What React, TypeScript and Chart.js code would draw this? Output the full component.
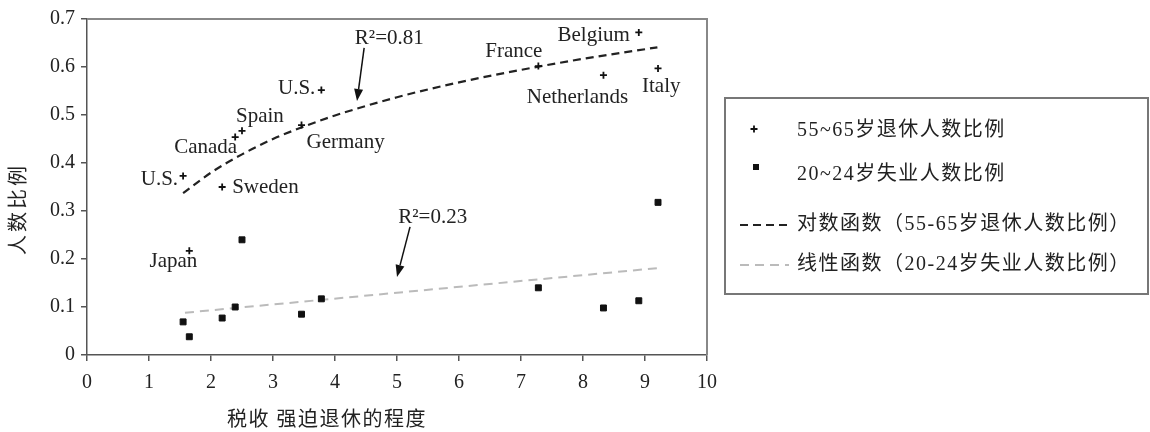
import React, { useEffect, useRef } from 'react';
import { Chart, registerables } from 'chart.js';

Chart.register(...registerables);

// ---------- data ----------
const countries = ['U.S.', 'Japan', 'Sweden', 'Canada', 'Spain', 'Germany', 'U.S.', 'France', 'Netherlands', 'Belgium', 'Italy'];
const taxIndex = [1.55, 1.65, 2.18, 2.39, 2.5, 3.46, 3.78, 7.28, 8.33, 8.9, 9.21];
const retiredShare = [0.373, 0.217, 0.35, 0.454, 0.467, 0.479, 0.552, 0.602, 0.583, 0.672, 0.597];
const unemployedShare = [0.069, 0.038, 0.077, 0.1, 0.24, 0.085, 0.117, 0.14, 0.098, 0.113, 0.318];

const logTrendX = [1.55, 2, 2.5, 3, 3.5, 4, 5, 6, 7, 8, 9.2];
const logTrendY = [0.337, 0.38, 0.418, 0.45, 0.476, 0.499, 0.537, 0.568, 0.594, 0.617, 0.641];
const linTrendX = [1.58, 9.2];
const linTrendY = [0.088, 0.181];

const xTickLabels = ['0', '1', '2', '3', '4', '5', '6', '7', '8', '9', '10'];
const yTickLabels = ['0', '0.1', '0.2', '0.3', '0.4', '0.5', '0.6', '0.7'];

const seriesNames = [
  '55~65岁退休人数比例',
  '20~24岁失业人数比例',
  '对数函数（55-65岁退休人数比例）',
  '线性函数（20-24岁失业人数比例）',
];
const xTitle = '税收 强迫退休的程度';
const yTitle = '人数比例';
const r2Labels = ['R²=0.81', 'R²=0.23'];
const r2TextAt = [{ x: 4.32, y: 0.648 }, { x: 5.02, y: 0.275 }];
const r2ArrowFrom = [{ x: 4.47, y: 0.64 }, { x: 5.21, y: 0.267 }];
const r2ArrowTo = [{ x: 4.355, y: 0.529 }, { x: 5.0, y: 0.1625 }];

// ---------- styles ----------
const SERIF = '"Liberation Serif", "Noto Sans CJK SC", serif';
const TEXT = '#222';
const LABEL_STYLE: { align: CanvasTextAlign; dx: number; dy: number }[] = [
  { align: 'right', dx: -5, dy: 9 },
  { align: 'right', dx: 8, dy: 16 },
  { align: 'left', dx: 10, dy: 6 },
  { align: 'right', dx: 2, dy: 16 },
  { align: 'left', dx: -6, dy: -9 },
  { align: 'left', dx: 5, dy: 23 },
  { align: 'right', dx: -6, dy: 4 },
  { align: 'right', dx: 4, dy: -9 },
  { align: 'center', dx: -26, dy: 28 },
  { align: 'right', dx: -9, dy: 9 },
  { align: 'left', dx: -16, dy: 24 },
];
const LEGEND_BOX = { x: 725, y: 98, w: 423, h: 196 };
const LEGEND_ROWS = [131, 175, 225, 265];
const LEGEND_MARK_X = 754;
const LEGEND_TEXT_X = 797;

function drawArrow(ctx: CanvasRenderingContext2D, x1: number, y1: number, x2: number, y2: number) {
  const ang = Math.atan2(y2 - y1, x2 - x1);
  const headLen = 12;
  const headW = 4.5;
  const bx = x2 - headLen * Math.cos(ang);
  const by = y2 - headLen * Math.sin(ang);
  ctx.save();
  ctx.strokeStyle = '#111';
  ctx.fillStyle = '#111';
  ctx.lineWidth = 1.5;
  ctx.setLineDash([]);
  ctx.beginPath();
  ctx.moveTo(x1, y1);
  ctx.lineTo(bx, by);
  ctx.stroke();
  ctx.beginPath();
  ctx.moveTo(x2, y2);
  ctx.lineTo(bx + headW * Math.sin(ang), by - headW * Math.cos(ang));
  ctx.lineTo(bx - headW * Math.sin(ang), by + headW * Math.cos(ang));
  ctx.closePath();
  ctx.fill();
  ctx.restore();
}

const decorPlugin = {
  id: 'decor',
  beforeDatasetsDraw(chart: any) {
    const { ctx, chartArea } = chart;
    ctx.save();
    ctx.strokeStyle = '#888';
    ctx.lineWidth = 2;
    ctx.beginPath();
    ctx.moveTo(chartArea.left, chartArea.top);
    ctx.lineTo(chartArea.right, chartArea.top);
    ctx.lineTo(chartArea.right, chartArea.bottom);
    ctx.stroke();
    ctx.restore();
  },
  afterDraw(chart: any) {
    const { ctx } = chart;
    const xs = chart.scales.x;
    const ys = chart.scales.y;
    ctx.save();
    ctx.fillStyle = TEXT;
    // country labels
    ctx.font = '21px ' + SERIF;
    ctx.textBaseline = 'alphabetic';
    const meta = chart.getDatasetMeta(0);
    countries.forEach((name, i) => {
      const el = meta.data[i];
      const st = LABEL_STYLE[i];
      ctx.textAlign = st.align;
      ctx.fillText(name, el.x + st.dx, el.y + st.dy);
    });
    // R² annotations
    r2Labels.forEach((t, i) => {
      ctx.textAlign = 'left';
      ctx.fillText(t, xs.getPixelForValue(r2TextAt[i].x), ys.getPixelForValue(r2TextAt[i].y));
      drawArrow(
        ctx,
        xs.getPixelForValue(r2ArrowFrom[i].x),
        ys.getPixelForValue(r2ArrowFrom[i].y),
        xs.getPixelForValue(r2ArrowTo[i].x),
        ys.getPixelForValue(r2ArrowTo[i].y)
      );
    });
    // axis titles
    ctx.font = '20px ' + SERIF;
    (ctx as any).letterSpacing = '1.5px';
    ctx.textAlign = 'center';
    ctx.textBaseline = 'middle';
    ctx.fillText(xTitle, 327, 421);
    ctx.save();
    (ctx as any).letterSpacing = '3px';
    ctx.translate(20, 209);
    ctx.rotate(-Math.PI / 2);
    ctx.fillText(yTitle, 0, 0);
    ctx.restore();

    // legend
    (ctx as any).letterSpacing = '1.5px';
    ctx.strokeStyle = '#777';
    ctx.lineWidth = 2;
    ctx.strokeRect(LEGEND_BOX.x, LEGEND_BOX.y, LEGEND_BOX.w, LEGEND_BOX.h);
    ctx.font = '20px ' + SERIF;
    ctx.textAlign = 'left';
    ctx.textBaseline = 'middle';
    chart.data.datasets.forEach((ds: any, i: number) => {
      const cy = LEGEND_ROWS[i];
      ctx.fillStyle = TEXT;
      ctx.fillText(ds.label, LEGEND_TEXT_X, cy);
      ctx.save();
      if (ds.showLine) {
        ctx.strokeStyle = ds.borderColor;
        ctx.lineWidth = ds.borderWidth;
        ctx.setLineDash(ds.borderDash);
        ctx.beginPath();
        ctx.moveTo(740, cy);
        ctx.lineTo(789, cy);
        ctx.stroke();
      } else if (ds.pointStyle === 'cross') {
        ctx.strokeStyle = ds.pointBorderColor;
        ctx.lineWidth = ds.pointBorderWidth;
        const r = ds.pointRadius;
        ctx.beginPath();
        ctx.moveTo(LEGEND_MARK_X - r, cy - 2);
        ctx.lineTo(LEGEND_MARK_X + r, cy - 2);
        ctx.moveTo(LEGEND_MARK_X, cy - 2 - r);
        ctx.lineTo(LEGEND_MARK_X, cy - 2 + r);
        ctx.stroke();
      } else {
        ctx.fillStyle = ds.pointBackgroundColor;
        ctx.fillRect(LEGEND_MARK_X - 1, cy - 11, 6, 6);
      }
      ctx.restore();
    });
    ctx.restore();
  },
};

export default function App() {
  const ref = useRef<HTMLCanvasElement>(null);
  useEffect(() => {
    if (!ref.current) return;
    const chart = new Chart(ref.current, {
      type: 'scatter',
      data: {
        datasets: [
          {
            label: seriesNames[0],
            data: taxIndex.map((x, i) => ({ x, y: retiredShare[i] })),
            pointStyle: 'cross',
            pointRadius: 3.5,
            pointBorderWidth: 1.8,
            pointBorderColor: '#111',
            pointBackgroundColor: '#111',
            showLine: false,
            order: 0,
          },
          {
            label: seriesNames[1],
            data: taxIndex.map((x, i) => ({ x, y: unemployedShare[i] })),
            pointStyle: 'rect',
            pointRadius: 4.2,
            pointBorderWidth: 1,
            pointBorderColor: '#111',
            pointBackgroundColor: '#111',
            showLine: false,
            order: 1,
          },
          {
            label: seriesNames[2],
            data: logTrendX.map((x, i) => ({ x, y: logTrendY[i] })),
            showLine: true,
            borderColor: '#222',
            borderWidth: 2.2,
            borderDash: [8, 5],
            pointRadius: 0,
            cubicInterpolationMode: 'monotone',
            order: 2,
          },
          {
            label: seriesNames[3],
            data: linTrendX.map((x, i) => ({ x, y: linTrendY[i] })),
            showLine: true,
            borderColor: '#bbb',
            borderWidth: 2,
            borderDash: [9, 6],
            pointRadius: 0,
            order: 3,
          },
        ],
      } as any,
      options: {
        animation: false,
        responsive: true,
        maintainAspectRatio: false,
        layout: { padding: { top: 19, right: 443, left: 0, bottom: 0 } },
        plugins: { legend: { display: false }, tooltip: { enabled: false } },
        events: [],
        scales: {
          x: {
            type: 'linear',
            min: 0,
            max: 10,
            afterFit: (s: any) => {
              s.height = 77;
            },
            ticks: {
              stepSize: 1,
              padding: 10,
              color: TEXT,
              font: { family: SERIF, size: 20 },
              callback: (_v: any, i: number) => xTickLabels[i],
            },
            grid: { drawOnChartArea: false, drawTicks: true, tickLength: 6, color: '#555', lineWidth: 1.5 },
            border: { color: '#555', width: 1.5 },
          },
          y: {
            type: 'linear',
            min: 0,
            max: 0.7,
            afterFit: (s: any) => {
              s.width = 87;
            },
            ticks: {
              stepSize: 0.1,
              padding: 6,
              color: TEXT,
              font: { family: SERIF, size: 20 },
              callback: (_v: any, i: number) => yTickLabels[i],
            },
            grid: { drawOnChartArea: false, drawTicks: true, tickLength: 6, color: '#555', lineWidth: 1.5 },
            border: { color: '#555', width: 1.5 },
          },
        },
      } as any,
      plugins: [decorPlugin],
    });
    return () => chart.destroy();
  }, []);
  return (
    <div style={{ position: 'fixed', left: 0, top: 0, width: 1150, height: 432, background: '#fff' }}>
      <canvas ref={ref} />
    </div>
  );
}
